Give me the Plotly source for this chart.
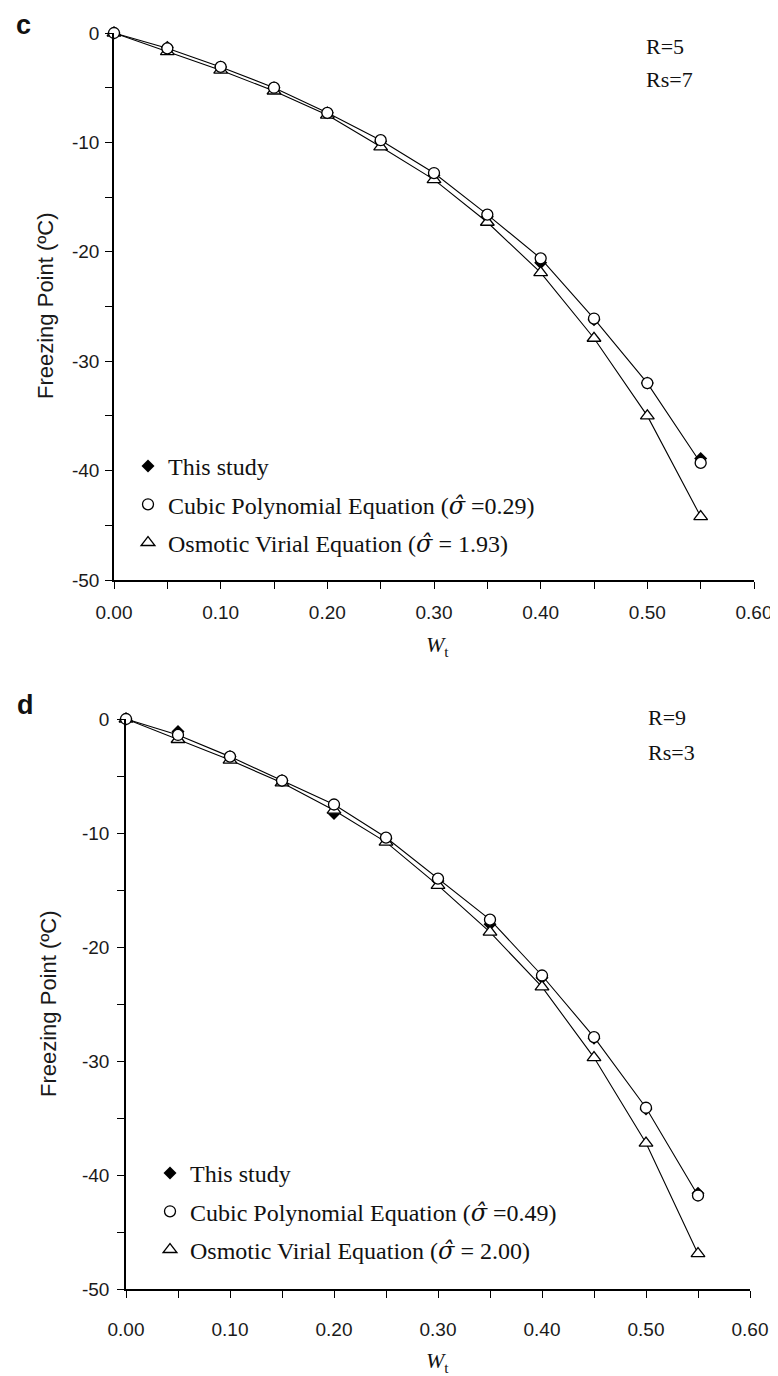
import plotly.graph_objects as go

# ── Data ──────────────────────────────────────────────────────────────────────
W_T = [0.00, 0.05, 0.10, 0.15, 0.20, 0.25, 0.30, 0.35, 0.40, 0.45, 0.50, 0.55]

# panel c : R=5, Rs=7
C_STUDY = [0, -1.3, -3.1, -5.0, -7.3, -9.9, -13.0, -16.8, -21.0, -26.2, -32.0, -38.9]
C_CUBIC = [0, -1.4, -3.1, -5.0, -7.3, -9.8, -12.8, -16.6, -20.6, -26.1, -32.0, -39.3]
C_OSM = [0, -1.7, -3.4, -5.3, -7.5, -10.4, -13.4, -17.3, -21.9, -27.9, -35.0, -44.2]

# panel d : R=9, Rs=3
D_STUDY = [0, -1.1, -3.3, -5.4, -8.3, -10.5, -14.2, -18.0, -22.7, -28.0, -34.2, -41.6]
D_CUBIC = [0, -1.4, -3.3, -5.4, -7.5, -10.4, -14.0, -17.6, -22.5, -27.9, -34.1, -41.8]
D_OSM = [0, -1.8, -3.6, -5.6, -8.0, -10.8, -14.6, -18.7, -23.5, -29.7, -37.2, -46.9]

SIGMA_C = ("0.29", "1.93")
SIGMA_D = ("0.49", "2.00")

X_TICKS = [0.0, 0.1, 0.2, 0.3, 0.4, 0.5, 0.6]
X_LABELS = ["0.00", "0.10", "0.20", "0.30", "0.40", "0.50", "0.60"]
Y_TICKS = [0, -10, -20, -30, -40, -50]
Y_LABELS = ["0", "-10", "-20", "-30", "-40", "-50"]

# ── Style ─────────────────────────────────────────────────────────────────────
PAGE_W, PAGE_H = 778, 1376
OFF = 8  # default body margin of the html page
W, H = PAGE_W - OFF, PAGE_H - OFF
SERIF = "Liberation Serif, Times New Roman, serif"
SANS = "Liberation Sans, Arial, sans-serif"
TICK_FONT = dict(family=SANS, size=19, color="#1a1a1a")
TEXT_FONT = dict(family=SERIF, size=22, color="#111111")
LEG_FONT = dict(family=SERIF, size=24, color="#111111")
SIG = '<span style="font-family:DejaVu Serif"><i>σ̂</i></span>'


# page pixel -> paper fraction
def px_x(p):
    return (p - OFF) / W


def px_y(p):
    return 1 - (p - OFF) / H


def add_panel(fig, n, study, cubic, osm, sig, legend):
    xa = "x" if n == 1 else f"x{n}"
    ya = "y" if n == 1 else f"y{n}"
    common = dict(xaxis=xa, yaxis=ya, cliponaxis=False)

    # lines first
    fig.add_trace(go.Scatter(x=W_T, y=osm, mode="lines", showlegend=False,
                             line=dict(color="black", width=1.1), **common))
    fig.add_trace(go.Scatter(x=W_T, y=cubic, mode="lines", showlegend=False,
                             line=dict(color="black", width=1.1), **common))

    # measured points sit under the (white filled) equation markers
    fig.add_trace(go.Scatter(
        x=W_T, y=study, mode="markers", legend=legend, legendrank=1,
        legendgroup=f"s{n}",
        name="This study",
        marker=dict(symbol="diamond", size=10, color="black"),
        **common))
    fig.add_trace(go.Scatter(
        x=W_T, y=osm, mode="markers", legend=legend, legendrank=3,
        legendgroup=f"o{n}",
        name=f"Osmotic Virial Equation ({SIG} = {sig[1]})",
        marker=dict(symbol="triangle-up", size=12, color="white",
                    line=dict(width=1.3, color="black")),
        **common))
    fig.add_trace(go.Scatter(
        x=W_T, y=cubic, mode="markers", legend=legend, legendrank=2,
        legendgroup=f"c{n}",
        name=f"Cubic Polynomial Equation ({SIG} ={sig[0]})",
        marker=dict(symbol="circle", size=11, color="white",
                    line=dict(width=1.3, color="black")),
        **common))


def axis(domain, anchor, rng, tickvals, ticktext, dtick_minor, standoff):
    return dict(
        domain=domain, anchor=anchor, range=rng, automargin=False,
        tickmode="array", tickvals=tickvals, ticktext=ticktext,
        showline=True, linecolor="black", linewidth=1.5,
        ticks="outside", ticklen=7, tickwidth=1.3, tickcolor="black",
        minor=dict(ticks="outside", ticklen=7, tickwidth=1.3,
                   tickcolor="black", dtick=dtick_minor),
        showgrid=False, zeroline=False, fixedrange=True,
        tickfont=TICK_FONT, ticklabelstandoff=standoff,
    )


fig = go.Figure()
add_panel(fig, 1, C_STUDY, C_CUBIC, C_OSM, SIGMA_C, "legend")
add_panel(fig, 2, D_STUDY, D_CUBIC, D_OSM, SIGMA_D, "legend2")

legend_style = dict(
    xanchor="left", yanchor="top", bgcolor="rgba(0,0,0,0)",
    font=LEG_FONT, traceorder="grouped", tracegroupgap=4,
    itemwidth=30,
)

fig.update_layout(
    width=W, height=H,
    margin=dict(l=0, r=0, t=0, b=0),
    paper_bgcolor="white", plot_bgcolor="white",
    xaxis=axis([px_x(114), px_x(754)], "y", [0, 0.6], X_TICKS, X_LABELS, 0.05, 7),
    yaxis=axis([px_y(580), px_y(33)], "x", [-50, 0], Y_TICKS, Y_LABELS, 5, 2),
    xaxis2=axis([px_x(126), px_x(750)], "y2", [0, 0.6], X_TICKS, X_LABELS, 0.05, 15),
    yaxis2=axis([px_y(1289), px_y(719)], "x2", [-50, 0], Y_TICKS, Y_LABELS, 5, 4),
    legend=dict(x=px_x(128), y=px_y(444), **legend_style),
    legend2=dict(x=px_x(150), y=px_y(1151), **legend_style),
)

# ── Text annotations ──────────────────────────────────────────────────────────
BOLD = dict(family="Liberation Sans, Arial", size=27, color="#111")
YT_FONT = dict(family=SANS, size=22, color="#1a1a1a")
notes = [
    ("<b>c</b>", 23, 8.5, 0, "center", "top", BOLD),
    ("<b>d</b>", 25, 705, 0, "center", "middle", BOLD),
    ("R=5", 645, 46, 0, "left", "middle", TEXT_FONT),
    ("Rs=7", 645, 80, 0, "left", "middle", TEXT_FONT),
    ("R=9", 647, 717, 0, "left", "middle", TEXT_FONT),
    ("Rs=3", 647, 752, 0, "left", "middle", TEXT_FONT),
    ("Freezing Point (ºC)", 46, 306, -90, "center", "middle", YT_FONT),
    ("Freezing Point (ºC)", 48, 1004, -90, "center", "middle", YT_FONT),
    ("<i>W</i><sub>t</sub>", 437, 646, 0, "center", "middle", TEXT_FONT),
    ("<i>W</i><sub>t</sub>", 437, 1362, 0, "center", "middle", TEXT_FONT),
]
for text, x, y, ang, xanc, yanc, font in notes:
    fig.add_annotation(
        text=text, x=px_x(x), y=px_y(y), xref="paper", yref="paper",
        xanchor=xanc, yanchor=yanc, textangle=ang,
        showarrow=False, font=font, borderpad=0,
    )

fig.write_html("out.html")
